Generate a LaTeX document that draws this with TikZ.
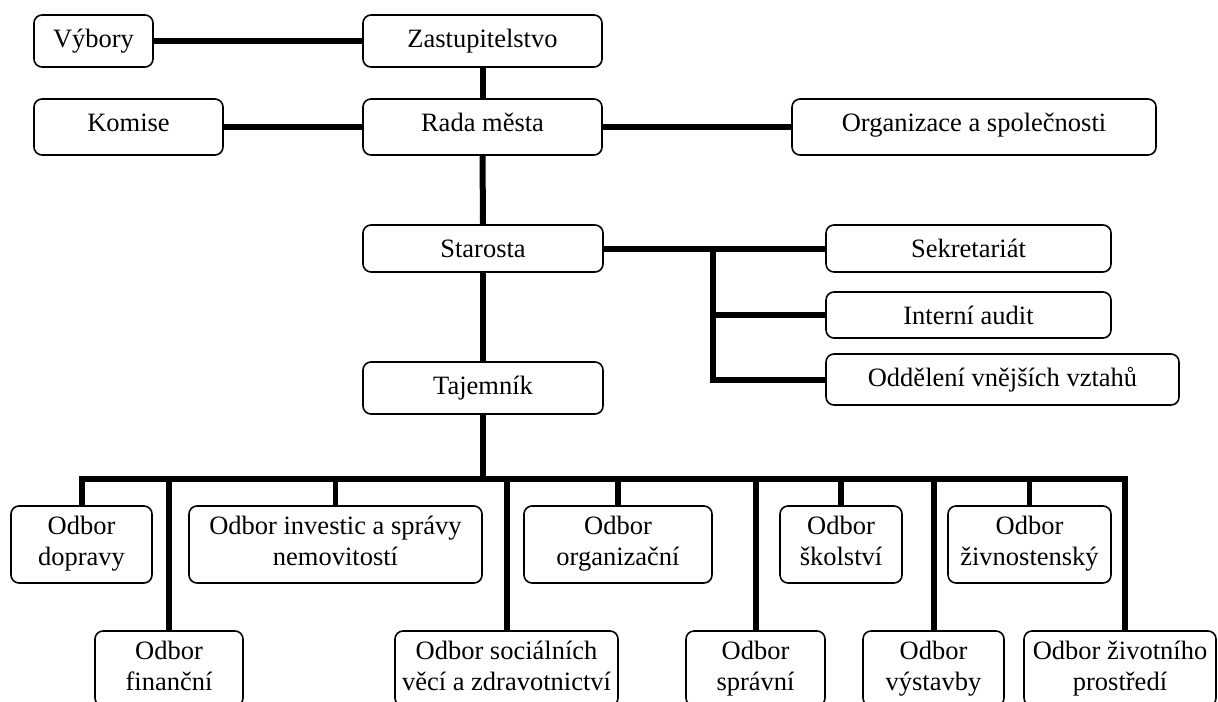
\documentclass[tikz,border=0pt]{standalone}
\usepackage{fontspec}
\setmainfont{Liberation Serif}
\usetikzlibrary{fit,calc}

\tikzset{
  orgbox/.style={draw, rounded corners=4pt, line width=0.8pt, inner sep=0pt, fill=white},
  orgtext/.style={inner sep=0pt, align=center, anchor=north,
    font=\fontsize{13.25}{15.5}\selectfont, execute at begin node=\strut},
  link/.style={line width=3pt},
  drop/.style={line width=2.7pt},
}

% box from corner (x1,y1) to (x2,y2) with its caption hanging from the top edge
\newcommand\orgunit[6]{%
  \coordinate (#1-a) at (#2,#3);
  \coordinate (#1-b) at (#4,#5);
  \node[orgbox, fit=(#1-a)(#1-b)] (#1) {};
  \node[orgtext] (#1-label) at ([yshift=-5.4pt]#1.north) {#6};
}

\begin{document}
\begin{tikzpicture}[x=0.5pt, y=-0.5pt]
\clip (0,0) rectangle (1218,701);
\useasboundingbox (0,0) rectangle (1218,701);

% top management
\orgunit{vybory}{34}{15}{153}{67}{Výbory}
\orgunit{zast}{363}{15}{602}{67}{Zastupitelstvo}
\orgunit{komise}{34}{99}{223}{155}{Komise}
\orgunit{rada}{363}{99}{602}{155}{Rada města}
\orgunit{org}{792}{99}{1156}{155}{Organizace a společnosti}
\orgunit{starosta}{363}{225}{603}{272}{Starosta}
\orgunit{sekr}{826}{225}{1111}{272}{Sekretariát}
\orgunit{audit}{826}{292}{1111}{338}{Interní audit}
\orgunit{odd}{826}{354}{1179}{405}{Oddělení vnějších vztahů}
\orgunit{taj}{363}{362}{603}{414}{Tajemník}

% departments, upper row
\orgunit{doprava}{11}{506}{152}{583}{Odbor\\dopravy}
\orgunit{investice}{189}{506}{482}{583}{Odbor investic a správy\\nemovitostí}
\orgunit{organizacni}{524}{506}{712}{583}{Odbor\\organizační}
\orgunit{skolstvi}{780}{506}{902}{583}{Odbor\\školství}
\orgunit{zivnost}{948}{506}{1111}{583}{Odbor\\živnostenský}

% departments, lower row
\orgunit{financni}{95}{631}{243}{706}{Odbor\\finanční}
\orgunit{socialni}{395}{631}{618}{706}{Odbor sociálních\\věcí a zdravotnictví}
\orgunit{spravni}{686}{631}{825}{706}{Odbor\\správní}
\orgunit{vystavba}{863}{631}{1004}{706}{Odbor\\výstavby}
\orgunit{zivprostr}{1024}{631}{1216}{706}{Odbor životního\\prostředí}

% connectors between the leading bodies
\draw[link] (vybory.east) -- (zast.west);
\draw[link] (zast.south) -- (rada.north);
\draw[link] (komise.east) -- (rada.west);
\draw[link] (rada.east) -- (org.west);
\draw[link] (rada.south) -- (starosta.north);
\draw[link] (starosta.south) -- (taj.north);
\draw[link] (starosta.east) -- (sekr.west);

% branch to the mayor's staff units
\coordinate (branch) at (713,249);
\draw[link] (branch) |- (odd.west);
\draw[link] (branch |- audit.west) -- (audit.west);

% bus to the departments
\coordinate (busR) at (1125,479);
\draw[link] (taj.south) -- (taj.south |- busR);
\draw[link] (doprava.north) |- (busR) -- (busR |- zivprostr.north);
\draw[drop] (investice.north |- busR) -- (investice.north);
\draw[drop] (organizacni.north |- busR) -- (organizacni.north);
\draw[drop] (skolstvi.north |- busR) -- (skolstvi.north);
\draw[drop] (zivnost.north |- busR) -- (zivnost.north);
\draw[link] (financni.north |- busR) -- (financni.north);
\draw[link] (socialni.north |- busR) -- (socialni.north);
\draw[link] (spravni.north |- busR) -- (spravni.north);
\draw[link] (vystavba.north |- busR) -- (vystavba.north);
\end{tikzpicture}
\end{document}
